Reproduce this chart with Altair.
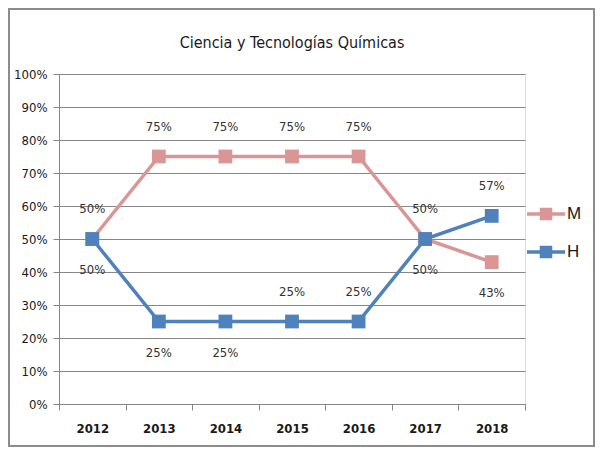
import altair as alt
import pandas as pd

years = ["2012", "2013", "2014", "2015", "2016", "2017", "2018"]
m_vals = [0.50, 0.75, 0.75, 0.75, 0.75, 0.50, 0.43]
h_vals = [0.50, 0.25, 0.25, 0.25, 0.25, 0.50, 0.57]
m_pos = ["above", "above", "above", "above", "above", "above", "below"]
h_pos = ["below", "below", "below", "above", "above", "below", "above"]
series = ["M", "H"]
colors = ["#D99694", "#4F81BD"]

rows = []
for y, v, p in zip(years, m_vals, m_pos):
    rows.append({"year": y, "value": v, "serie": "M", "pos": p})
for y, v, p in zip(years, h_vals, h_pos):
    rows.append({"year": y, "value": v, "serie": "H", "pos": p})
df = pd.DataFrame(rows)

FONT = "DejaVu Sans Condensed"

x = alt.X("year:N", title=None, sort=years,
          scale=alt.Scale(paddingInner=0, paddingOuter=0),
          axis=alt.Axis(labelAngle=0, tickBand="extent", labelFont=FONT, labelFontSize=13,
                        labelFontWeight="bold", labelColor="#1a1a1a", labelPadding=12,
                        domainColor="#868686", tickColor="#868686", tickSize=6, grid=False))
y = alt.Y("value:Q", title=None,
          scale=alt.Scale(domain=[0, 1]),
          axis=alt.Axis(format=".0%", values=[i / 10 for i in range(11)], labelFont=FONT,
                        labelFontSize=13, labelColor="#1a1a1a", labelPadding=6,
                        domainColor="#868686", tickColor="#868686", tickSize=6,
                        gridColor="#868686", gridWidth=1))
color_scale = alt.Scale(domain=series, range=colors)

sym = "M-1,-0.09 L1,-0.09 L1,0.09 L-1,0.09 Z M-0.33,-0.33 L0.33,-0.33 L0.33,0.33 L-0.33,0.33 Z"
legend = alt.Legend(title=None, orient="none", legendX=468, legendY=121,
                    symbolType=sym, symbolSize=1444, symbolStrokeWidth=0,
                    symbolOpacity=1,
                    labelFont="Liberation Sans", labelFontSize=17,
                    labelColor="#1a1a1a", rowPadding=11, labelOffset=2)
color = alt.Color("serie:N", scale=color_scale, sort=series, legend=legend)

lines = alt.Chart(df).mark_line(strokeWidth=3.5).encode(x=x, y=y, color=color)
points = alt.Chart(df).mark_square(size=190, filled=True, opacity=1).encode(x=x, y=y, color=color)

above = alt.Chart(df).transform_filter(alt.datum.pos == "above").mark_text(
    dy=-30, font=FONT, fontSize=13, color="#333333").encode(
    x=x, y=y, text=alt.Text("value:Q", format=".0%"))
below = alt.Chart(df).transform_filter(alt.datum.pos == "below").mark_text(
    dy=31, font=FONT, fontSize=13, color="#333333").encode(
    x=x, y=y, text=alt.Text("value:Q", format=".0%"))

border = alt.Chart(pd.DataFrame({"a": [0]})).mark_rect(
    fill=None, stroke="#8c8c8c", strokeWidth=2, clip=False).encode(
    x=alt.value(-50), x2=alt.value(535), y=alt.value(-65), y2=alt.value(372))

chart = alt.layer(border, lines, points, above, below).properties(
    width=466, height=330,
    title=alt.TitleParams("Ciencia y Tecnologías Químicas", font=FONT, fontSize=16,
                          fontWeight="normal", color="#1a1a1a", offset=-43, anchor="middle"),
    autosize=alt.AutoSizeParams(type="none"),
    padding={"left": 51, "top": 66, "right": 70, "bottom": 43},
).configure_view(stroke=None).configure(background="white")

chart.save("out.html", embed_options={"renderer": "svg", "actions": False})
